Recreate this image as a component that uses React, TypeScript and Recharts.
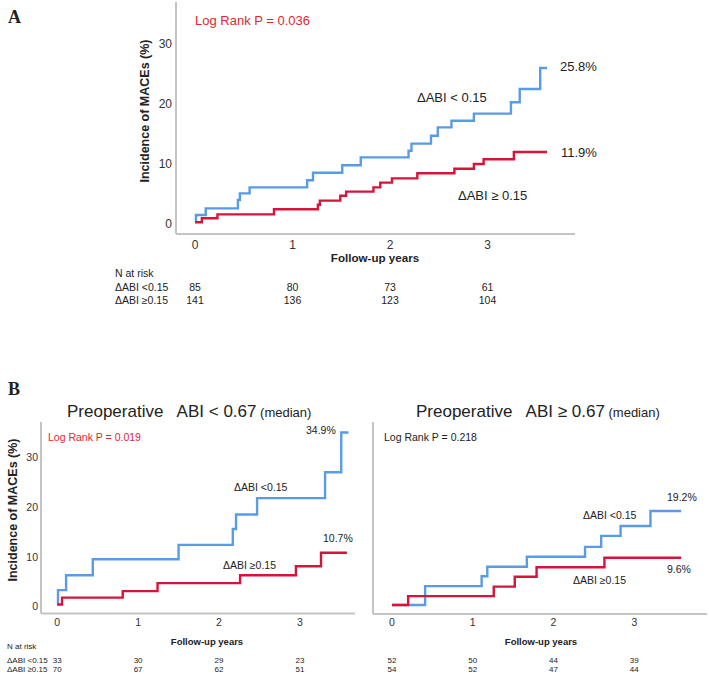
import React from 'react';
import { LineChart, Line, XAxis, YAxis } from 'recharts';

const FONT = 'Arial, "Liberation Sans", Helvetica, sans-serif';
const SERIF = '"Liberation Serif", "Times New Roman", serif';
const BLUE = '#5a9be6';
const RED = '#d8133a';
const RED_TEXT = '#e3262f';
const AXIS = '#c4c4c4';
const INK = '#222';

const yearTicks = [0, 1, 2, 3];
const incTicks = [0, 10, 20, 30];

// Panel A: all patients
const aLowTimes = [0, 0.01, 0.11, 0.44, 0.46, 0.56, 1.15, 1.21, 1.51, 1.7, 2.19, 2.22, 2.42, 2.49, 2.63, 2.86, 3.24, 3.33, 3.54, 3.61];
const aLowInc = [0.4, 1.5, 2.6, 4.0, 5.1, 6.1, 7.3, 8.55, 9.8, 11.1, 12.2, 13.4, 14.7, 16.1, 17.2, 18.4, 20.3, 22.5, 26.0, 26.0];
const aHighTimes = [0, 0.07, 0.23, 0.81, 1.26, 1.28, 1.49, 1.55, 1.83, 1.9, 2.02, 2.28, 2.66, 2.86, 2.96, 3.27, 3.61];
const aHighInc = [0.3, 0.95, 1.6, 2.45, 3.2, 3.9, 4.7, 5.4, 6.1, 6.9, 7.6, 8.45, 9.2, 10.0, 10.8, 12.0, 12.0];
const aRiskLow = [85, 80, 73, 61];
const aRiskHigh = [141, 136, 123, 104];

// Panel B left: preoperative ABI < 0.67
const blLowTimes = [0, 0.01, 0.11, 0.44, 1.5, 2.17, 2.21, 2.47, 3.31, 3.51, 3.6];
const blLowInc = [0.5, 3.3, 6.3, 9.5, 12.4, 15.6, 18.5, 21.8, 27.0, 35.0, 35.0];
const blHighTimes = [0, 0.06, 0.81, 1.24, 2.26, 2.95, 3.26, 3.58];
const blHighInc = [0.4, 1.8, 3.1, 4.7, 6.3, 8.1, 10.8, 10.8];
const blRiskLow = [33, 30, 29, 23];
const blRiskHigh = [70, 67, 62, 51];

// Panel B right: preoperative ABI >= 0.67
const brLowTimes = [0, 0.41, 1.11, 1.18, 1.67, 2.39, 2.59, 2.83, 3.2, 3.58];
const brLowInc = [0.3, 4.1, 6.1, 8.0, 10.0, 12.0, 14.2, 16.2, 19.2, 19.2];
const brHighTimes = [0, 0.2, 1.26, 1.52, 1.79, 2.63, 3.58];
const brHighInc = [0.3, 2.1, 4.0, 6.0, 7.9, 9.8, 9.8];
const brRiskLow = [52, 50, 44, 39];
const brRiskHigh = [54, 52, 47, 44];

const toPts = (t: number[], v: number[]) => t.map((x, i) => ({ t: x, v: v[i] }));

type Box = { left: number; top: number; right: number; bottom: number };

const boxA: Box = { left: 176, top: 2, right: 575, bottom: 234 };
const domA: [number, number] = [-0.195, 3.897];
const boxBL: Box = { left: 41, top: 422, right: 355, bottom: 613.5 };
const domBL: [number, number] = [-0.2, 3.68];
const boxBR: Box = { left: 373, top: 422, right: 707, bottom: 614 };
const domBR: [number, number] = [-0.235, 3.9];

const xPix = (box: Box, dom: [number, number], t: number) =>
  box.left + ((t - dom[0]) / (dom[1] - dom[0])) * (box.right - box.left);

function T({
  x,
  y,
  size = 13,
  color = INK,
  bold = false,
  anchor = 'start',
  family = FONT,
  children,
}: any) {
  const tx = anchor === 'middle' ? '-50%' : anchor === 'end' ? '-100%' : '0';
  return (
    <div
      style={{
        position: 'absolute',
        left: x,
        top: y,
        transform: `translate(${tx}, -50%)`,
        fontSize: size,
        fontWeight: bold ? 700 : 400,
        color,
        fontFamily: family,
        whiteSpace: 'pre',
        lineHeight: 1,
      }}
    >
      {children}
    </div>
  );
}

function VLabel({ x, y, size }: { x: number; y: number; size: number }) {
  return (
    <div
      style={{
        position: 'absolute',
        left: x,
        top: y,
        transform: 'translate(-50%, -50%) rotate(-90deg)',
        fontSize: size,
        fontWeight: 700,
        color: INK,
        fontFamily: FONT,
        whiteSpace: 'nowrap',
        lineHeight: 1,
      }}
    >
      Incidence of MACEs (%)
    </div>
  );
}

function KMChart({
  box,
  xDomain,
  yDomain,
  low,
  high,
  showY,
  tickFont,
  xGap,
  yGap,
}: any) {
  const axisW = 40;
  const axisH = 30;
  const width = box.right + 2;
  const height = Math.ceil(box.bottom + axisH);
  const tickStyle = { fill: '#333', fontSize: tickFont, fontFamily: FONT };
  return (
    <div style={{ position: 'absolute', left: 0, top: 0 }}>
      <LineChart
        width={width}
        height={height}
        margin={{ top: box.top, left: box.left - axisW, right: width - box.right, bottom: height - box.bottom - axisH }}
      >
        <XAxis
          type="number"
          dataKey="t"
          domain={xDomain}
          allowDataOverflow
          ticks={yearTicks}
          interval={0}
          height={axisH}
          tickLine={false}
          tickSize={0}
          tickMargin={xGap}
          axisLine={{ stroke: AXIS, strokeWidth: 2 }}
          tick={tickStyle}
        />
        <YAxis
          type="number"
          dataKey="v"
          domain={yDomain}
          allowDataOverflow
          ticks={incTicks}
          interval={0}
          width={axisW}
          tickLine={false}
          tickSize={0}
          tickMargin={yGap}
          axisLine={{ stroke: AXIS, strokeWidth: 2 }}
          tick={showY ? tickStyle : false}
        />
        <Line
          data={low}
          dataKey="v"
          type="stepAfter"
          stroke={BLUE}
          strokeWidth={2.4}
          dot={false}
          activeDot={false}
          isAnimationActive={false}
        />
        <Line
          data={high}
          dataKey="v"
          type="stepAfter"
          stroke={RED}
          strokeWidth={2.4}
          dot={false}
          activeDot={false}
          isAnimationActive={false}
        />
      </LineChart>
    </div>
  );
}

function RiskRow({ box, dom, values, y, size }: any) {
  return (
    <>
      {values.map((n: number, i: number) => (
        <T key={i} x={xPix(box, dom, yearTicks[i])} y={y} size={size} anchor="middle">
          {n}
        </T>
      ))}
    </>
  );
}

export default function App() {
  return (
    <div
      style={{
        position: 'absolute',
        left: 0,
        top: 0,
        width: 709,
        height: 681,
        background: '#fff',
        overflow: 'hidden',
        fontFamily: FONT,
      }}
    >
      {/* Panel A */}
      <KMChart
        box={boxA}
        xDomain={domA}
        yDomain={[-1.67, 37]}
        low={toPts(aLowTimes, aLowInc)}
        high={toPts(aHighTimes, aHighInc)}
        showY
        tickFont={12}
        xGap={6}
        yGap={4}
      />
      <T x={8} y={17} size={18} bold family={SERIF}>A</T>
      <T x={195} y={19.5} size={13} color={RED_TEXT}>Log Rank P = 0.036</T>
      <VLabel x={145} y={111} size={12.5} />
      <T x={417} y={97} size={13}>ΔABI &lt; 0.15</T>
      <T x={560} y={66} size={13}>25.8%</T>
      <T x={561} y={152} size={13}>11.9%</T>
      <T x={458} y={195} size={13}>ΔABI ≥ 0.15</T>
      <T x={375} y={258} size={11.6} bold anchor="middle">Follow-up years</T>
      <T x={115} y={273} size={10.5}>N at risk</T>
      <T x={115} y={287} size={10.5}>ΔABI &lt;0.15</T>
      <T x={115} y={300} size={10.5}>ΔABI ≥0.15</T>
      <RiskRow box={boxA} dom={domA} values={aRiskLow} y={287} size={10.5} />
      <RiskRow box={boxA} dom={domA} values={aRiskHigh} y={300} size={10.5} />

      {/* Panel B */}
      <T x={8} y={388.5} size={18} bold family={SERIF}>B</T>
      <VLabel x={12.5} y={510} size={12.5} />

      <KMChart
        box={boxBL}
        xDomain={domBL}
        yDomain={[-1.4, 37.1]}
        low={toPts(blLowTimes, blLowInc)}
        high={toPts(blHighTimes, blHighInc)}
        showY
        tickFont={10.5}
        xGap={5}
        yGap={3}
      />
      <T x={67} y={411} size={17}>
        {'Preoperative   ABI < 0.67'}
        <span style={{ fontSize: 13 }}> (median)</span>
      </T>
      <T x={48} y={437} size={10.5} color={RED_TEXT}>Log Rank P = 0.019</T>
      <T x={306} y={430} size={10.5}>34.9%</T>
      <T x={234} y={487} size={10.5}>ΔABI &lt;0.15</T>
      <T x={323} y={538} size={10.5}>10.7%</T>
      <T x={223} y={565} size={10.5}>ΔABI ≥0.15</T>
      <T x={207} y={642} size={9.5} bold anchor="middle">Follow-up years</T>
      <T x={7} y={647} size={8}>N at risk</T>
      <T x={7} y={661} size={8}>ΔABI &lt;0.15</T>
      <T x={7} y={669.5} size={8}>ΔABI ≥0.15</T>
      <RiskRow box={boxBL} dom={domBL} values={blRiskLow} y={661} size={8} />
      <RiskRow box={boxBL} dom={domBL} values={blRiskHigh} y={669.5} size={8} />

      <KMChart
        box={boxBR}
        xDomain={domBR}
        yDomain={[-1.5, 37.1]}
        low={toPts(brLowTimes, brLowInc)}
        high={toPts(brHighTimes, brHighInc)}
        showY={false}
        tickFont={10.5}
        xGap={5}
        yGap={3}
      />
      <T x={416} y={411} size={17}>
        {'Preoperative   ABI ≥ 0.67'}
        <span style={{ fontSize: 13 }}> (median)</span>
      </T>
      <T x={384} y={437} size={10.5}>Log Rank P = 0.218</T>
      <T x={667} y={497} size={10.5}>19.2%</T>
      <T x={583} y={515} size={10.5}>ΔABI &lt;0.15</T>
      <T x={667} y={569} size={10.5}>9.6%</T>
      <T x={573} y={580} size={10.5}>ΔABI ≥0.15</T>
      <T x={541} y={642} size={9.5} bold anchor="middle">Follow-up years</T>
      <RiskRow box={boxBR} dom={domBR} values={brRiskLow} y={661} size={8} />
      <RiskRow box={boxBR} dom={domBR} values={brRiskHigh} y={669.5} size={8} />
    </div>
  );
}
